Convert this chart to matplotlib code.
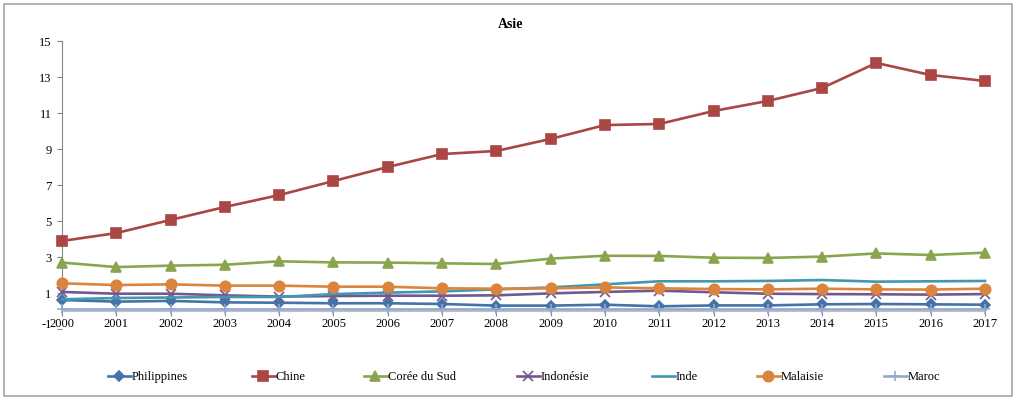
import matplotlib
matplotlib.use("Agg")
import matplotlib.pyplot as plt
import matplotlib.transforms as mtransforms
from matplotlib.patches import Rectangle

plt.rcParams["font.family"] = ["Liberation Serif", "DejaVu Serif"]
plt.rcParams["axes.unicode_minus"] = False

years = list(range(2000, 2018))

philippines = [0.61, 0.52, 0.56, 0.48, 0.46, 0.43, 0.43, 0.39, 0.30, 0.30,
               0.35, 0.26, 0.31, 0.31, 0.37, 0.39, 0.37, 0.35]
chine = [3.89, 4.33, 5.06, 5.78, 6.44, 7.22, 8.00, 8.72, 8.89, 9.56,
         10.33, 10.39, 11.11, 11.67, 12.39, 13.78, 13.11, 12.78]
coree = [2.69, 2.44, 2.52, 2.57, 2.76, 2.70, 2.69, 2.65, 2.61, 2.91,
         3.07, 3.06, 2.96, 2.95, 3.02, 3.20, 3.11, 3.24]
indonesie = [1.06, 0.96, 0.96, 0.87, 0.80, 0.83, 0.85, 0.85, 0.87, 0.98,
             1.06, 1.13, 1.04, 0.96, 0.94, 0.93, 0.91, 0.94]
inde = [0.65, 0.72, 0.75, 0.78, 0.78, 0.94, 1.02, 1.09, 1.20, 1.31,
        1.48, 1.65, 1.65, 1.67, 1.72, 1.63, 1.65, 1.67]
malaisie = [1.54, 1.44, 1.48, 1.41, 1.41, 1.35, 1.35, 1.26, 1.24, 1.26,
            1.31, 1.26, 1.22, 1.20, 1.24, 1.20, 1.19, 1.24]
maroc = [0.10, 0.10, 0.10, 0.10, 0.10, 0.10, 0.10, 0.10, 0.10, 0.10,
         0.10, 0.10, 0.10, 0.10, 0.10, 0.10, 0.10, 0.10]

series = [
    ("Philippines", philippines, "#4572A7", "D", 5.5),
    ("Chine", chine, "#AA4643", "s", 6.5),
    ("Corée du Sud", coree, "#89A54E", "^", 7),
    ("Indonésie", indonesie, "#71588F", "x", 6.5),
    ("Inde", inde, "#4198AF", None, 0),
    ("Malaisie", malaisie, "#DB843D", "o", 7.5),
    ("Maroc", maroc, "#93A9CF", "+", 7),
]

y_ticks = list(range(-1, 16, 2))

fig = plt.figure(figsize=(10.17, 4.0), dpi=100)
ax = fig.add_axes([62 / 1017, 1 - 329 / 400, (985 - 62) / 1017, (329 - 41) / 400])

handles = []
for name, vals, color, marker, ms in series:
    line, = ax.plot(years, vals, color=color, linewidth=1.9, marker=marker,
                    markersize=ms, markerfacecolor=color, markeredgecolor=color,
                    markeredgewidth=1.2, label=name, zorder=3, clip_on=False)
    handles.append(line)

ax.set_xlim(2000, 2017)
ax.set_ylim(-1, 15)
ax.set_yticks(y_ticks)
ax.set_xticks(years)
ax.set_xticklabels([str(y) for y in years])

for side in ("top", "right"):
    ax.spines[side].set_visible(False)
ax.spines["bottom"].set_position(("data", 0))
ax.spines["bottom"].set_color("#BFBFBF")
ax.spines["left"].set_color("#868686")
ax.spines["left"].set_bounds(0, 15)
ax.tick_params(axis="y", direction="out", length=3.5, width=0.8, color="#868686",
               labelsize=9, pad=4)
ax.tick_params(axis="x", direction="out", length=3.5, width=0.8, color="#868686",
               labelsize=9, pad=1.5)

# Category labels sit on an opaque background, over the lowest value label
for lbl in ax.get_xticklabels():
    lbl.set_bbox(dict(facecolor="white", edgecolor="none", pad=0.5))
    lbl.set_zorder(5)
low = ax.get_yticklabels()[0]
low.set_transform(low.get_transform() +
                  mtransforms.ScaledTranslation(0, 6 / 100, fig.dpi_scale_trans))
low.set_zorder(1)

fig.text(511 / 1017, 1 - 24 / 400, "Asie", ha="center", va="center",
         fontsize=10, fontweight="bold")

# Legend entries along the bottom, one per series
starts = [108, 252, 364, 517, 652, 757, 884]
for h, x0 in zip(handles, starts):
    fig.legend([h], [h.get_label()], loc="center left",
               bbox_to_anchor=(x0 / 1017, 1 - 377 / 400), frameon=False,
               fontsize=9, handlelength=1.8, handletextpad=0.1,
               borderpad=0, borderaxespad=0)

fig.patches.append(Rectangle((4 / 1017, 4 / 400), 1008 / 1017, 392 / 400,
                             transform=fig.transFigure, fill=False,
                             edgecolor="#A6A6A6", linewidth=1.2))

fig.savefig("out.png", dpi=100)
